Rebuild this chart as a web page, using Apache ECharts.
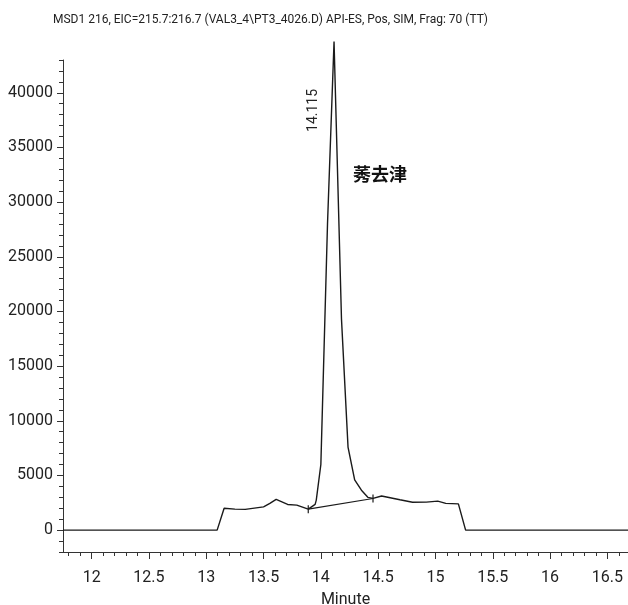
<!DOCTYPE html>
<html>
<head>
<meta charset="utf-8">
<script src="https://cdn.jsdelivr.net/npm/echarts@6/dist/echarts.min.js"></script>
<style>
  html, body { margin: 0; padding: 0; background: #fff; }
  #chart { width: 628px; height: 605px; }
</style>
</head>
<body>
<div id="chart"></div>
<script>
// 色谱数据
const times = [11.75, 13.095, 13.156, 13.25, 13.34, 13.5, 13.555, 13.61, 13.71, 13.79, 13.89, 13.95, 13.96,
  14.0, 14.058, 14.115, 14.18, 14.237, 14.295, 14.354, 14.41, 14.455, 14.53, 14.69, 14.8, 14.92, 15.02,
  15.09, 15.2, 15.263, 16.68];
const abundance = [0, 0, 2000, 1920, 1900, 2130, 2440, 2810, 2350, 2290, 1920, 2350, 2750,
  6000, 28000, 44700, 19300, 7600, 4600, 3650, 3000, 2900, 3120, 2780, 2550, 2560, 2650,
  2450, 2400, 0, 0];
// 积分基线
const baseTimes = [13.89, 14.455];
const baseValues = [1920, 2900];
// 刻度
const xLabels = [12, 12.5, 13, 13.5, 14, 14.5, 15, 15.5, 16, 16.5];
const yLabels = [0, 5000, 10000, 15000, 20000, 25000, 30000, 35000, 40000];
const peakTime = 14.115;
const peakValue = 44700;
const compoundName = '莠去津';
const titleText = 'MSD1 216, EIC=215.7:216.7 (VAL3_4\\PT3_4026.D) API-ES, Pos, SIM, Frag: 70 (TT)';

const FONT = "Roboto, sans-serif";
const X_MIN = 11.75, X_MAX = 16.68, Y_MIN = -2000, Y_MAX = 43000;

// 次刻度
const xMinor = [];
for (let k = 0; 11.8 + k * 0.1 <= X_MAX; k++) xMinor.push(Math.round((11.8 + k * 0.1) * 10) / 10);
const yMinor = [];
for (let v = Y_MIN; v <= Y_MAX; v += 1000) yMinor.push(v);

const chart = echarts.init(document.getElementById('chart'));

const option = {
  animation: false,
  backgroundColor: '#fff',
  title: {
    text: titleText,
    left: 48,
    top: 9,
    textStyle: { fontFamily: FONT, fontSize: 12, fontWeight: 'normal', color: '#222' }
  },
  grid: { left: 63, right: 0, top: 60, bottom: 53, containLabel: false, outerBoundsMode: 'none' },
  xAxis: [{
    type: 'value', min: X_MIN, max: X_MAX,
    name: 'Minute', nameLocation: 'middle', nameGap: 40,
    nameTextStyle: { fontFamily: FONT, fontSize: 16, color: '#222' },
    axisLine: { show: true, onZero: false, lineStyle: { color: '#333', width: 1 } },
    axisTick: { show: true, length: 7, customValues: xLabels, lineStyle: { color: '#333' } },
    axisLabel: { customValues: xLabels, margin: 18, fontFamily: FONT, fontSize: 16, color: '#222',
      formatter: v => String(v) },
    splitLine: { show: false }
  }, {
    type: 'value', min: X_MIN, max: X_MAX, position: 'bottom',
    axisLine: { show: false, onZero: false },
    axisTick: { show: true, length: 4, customValues: xMinor, lineStyle: { color: '#333' } },
    axisLabel: { show: false },
    splitLine: { show: false }
  }],
  yAxis: [{
    type: 'value', min: Y_MIN, max: Y_MAX,
    axisLine: { show: true, onZero: false, lineStyle: { color: '#333', width: 1 } },
    axisTick: { show: true, length: 6, customValues: yLabels, lineStyle: { color: '#333' } },
    axisLabel: { customValues: yLabels, margin: 10, fontFamily: FONT, fontSize: 16, color: '#222',
      formatter: v => String(v) },
    splitLine: { show: false }
  }, {
    type: 'value', min: Y_MIN, max: Y_MAX, position: 'left',
    axisLine: { show: false, onZero: false },
    axisTick: { show: true, length: 4, customValues: yMinor, lineStyle: { color: '#333' } },
    axisLabel: { show: false },
    splitLine: { show: false }
  }],
  series: [{
    type: 'line',
    data: times.map((t, i) => [t, abundance[i]]),
    showSymbol: false,
    clip: false,
    lineStyle: { color: '#1a1a1a', width: 1.4 }
  }, {
    type: 'line',
    data: baseTimes.map((t, i) => [t, baseValues[i]]),
    symbol: 'rect',
    symbolSize: [1.2, 8],
    itemStyle: { color: '#1a1a1a' },
    clip: false,
    lineStyle: { color: '#1a1a1a', width: 1.1 }
  }]
};

chart.setOption(option);

// 峰标注
const p = chart.convertToPixel({ xAxisIndex: 0, yAxisIndex: 0 }, [peakTime, peakValue]);
chart.setOption({
  graphic: [{
    type: 'text',
    x: p[0] - 21, y: p[1] + 69,
    rotation: Math.PI / 2,
    style: { text: String(peakTime), fontFamily: FONT, fontSize: 14, fill: '#222', align: 'center', verticalAlign: 'middle' }
  }, {
    type: 'text',
    x: p[0] + 46, y: p[1] + 133,
    style: { text: compoundName, fontFamily: "'Noto Sans CJK SC', sans-serif", fontSize: 18, fontWeight: 'bold', fill: '#111', align: 'center', verticalAlign: 'middle' }
  }]
});

window.addEventListener('resize', function () {
  chart.resize();
});
</script>
</body>
</html>
